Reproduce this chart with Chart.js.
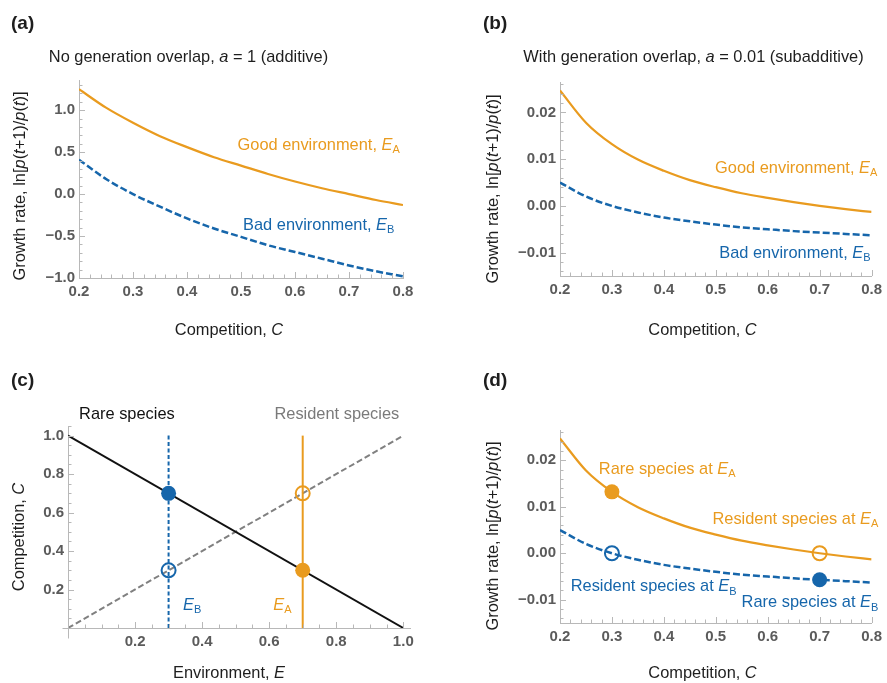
<!DOCTYPE html>
<html>
<head>
<meta charset="utf-8">
<script src="https://cdn.jsdelivr.net/npm/chart.js@4"></script>
<style>
body { margin: 0; background: #fff; }
#wrap { position: relative; width: 887px; height: 683px; }
canvas { position: absolute; }
</style>
</head>
<body>
<div id="wrap">
<canvas id="pa" width="443" height="341" style="left:0;top:0"></canvas>
<canvas id="pb" width="444" height="341" style="left:443px;top:0"></canvas>
<canvas id="pc" width="443" height="342" style="left:0;top:341px"></canvas>
<canvas id="pd" width="444" height="342" style="left:443px;top:341px"></canvas>
</div>
<script>
const compC = [0.2, 0.25, 0.3, 0.35, 0.4, 0.45, 0.5, 0.55, 0.6, 0.65, 0.7, 0.75, 0.8];

// (a) no generation overlap, a = 1
const goodA = [1.25, 1.03, 0.85, 0.69, 0.56, 0.44, 0.34, 0.24, 0.15, 0.07, 0.0, -0.07, -0.13];
const badA  = [0.41, 0.18, 0.0, -0.15, -0.29, -0.41, -0.51, -0.61, -0.69, -0.77, -0.85, -0.92, -0.98];

// (b) and (d) with generation overlap, a = 0.01
const goodB = [0.0247, 0.0178, 0.0132, 0.0099, 0.0075, 0.0055, 0.0040, 0.0027, 0.0017, 0.0008, 0.0, -0.0007, -0.0013];
const badB  = [0.0050, 0.0020, 0.0, -0.0014, -0.0025, -0.0033, -0.0040, -0.0046, -0.0050, -0.0054, -0.0057, -0.0060, -0.0063];

// (c) environment vs competition
const envEnds      = [0, 1];
const rareComp     = [1, 0];   // rare species line
const residentComp = [0, 1];   // resident species line
const envB = 0.3, envA = 0.7;
const compSpan = [0, 1];
const rareAtB = 0.7, residentAtB = 0.3, rareAtA = 0.3, residentAtA = 0.7;

// (d) points on the curves: [competition, growth]
const dRareA = [0.3, 0.0132];
const dResA  = [0.7, 0.0];
const dResB  = [0.3, 0.0];
const dRareB = [0.7, -0.0057];

// tick labels
const ticksCompX = [0.2, 0.3, 0.4, 0.5, 0.6, 0.7, 0.8];
const ticksAy    = [-1.0, -0.5, 0.0, 0.5, 1.0];
const ticksBy    = [-0.01, 0.0, 0.01, 0.02];
const ticksCx    = [0.2, 0.4, 0.6, 0.8, 1.0];
const ticksCy    = [0.2, 0.4, 0.6, 0.8, 1.0];

const ORANGE = '#E99B1F';
const BLUE = '#1666AB';
const GRAY = '#808080';
const AXIS = '#b8b8b8';
const FAM = '"Liberation Sans", Arial, Helvetica, sans-serif';
Chart.defaults.font.family = FAM;

function steps(a, b, st) {
  const out = [];
  for (let v = a; v <= b + 1e-9; v += st) out.push(Math.round(v / st) * st);
  return out;
}
function isMajor(v, majors) { return majors.some(m => Math.abs(m - v) < 1e-9); }
function fmtNum(v, dec) { const s = Math.abs(v).toFixed(dec); return v < -1e-12 ? '\u2212' + s : s; }

function axis(min, max, majors, minorStep, dec, fit, isX) {
  const all = steps(Math.ceil(min / minorStep - 1e-9) * minorStep, max, minorStep);
  return {
    type: 'linear', min: min, max: max,
    border: { display: true, color: AXIS, width: 1 },
    grid: { display: false, drawTicks: false },
    ticks: {
      padding: isX ? 5 : 4, color: '#5b5b5b', autoSkip: false, maxRotation: 0,
      font: { size: 15, weight: 'bold' },
      callback: v => isMajor(v, majors) ? fmtNum(v, dec) : ''
    },
    afterBuildTicks: s => { s.ticks = all.map(v => ({ value: v })); },
    afterFit: s => { if (isX) s.height = fit; else s.width = fit; }
  };
}

// axes of panel (c) run a little past the origin
const OVERHANG = { pc: true };

// inward tick marks like the original frame
const tickMarks = {
  id: 'tickMarks',
  afterDraw(chart) {
    const ctx = chart.ctx;
    ctx.save();
    ctx.strokeStyle = AXIS;
    ctx.lineWidth = 1;
    [chart.scales.x, chart.scales.y].forEach(s => {
      s.ticks.forEach(t => {
        const len = t.label ? 6 : 3.5;
        const p = Math.round(s.getPixelForValue(t.value)) + 0.5;
        ctx.beginPath();
        if (s.isHorizontal()) { ctx.moveTo(p, s.top); ctx.lineTo(p, s.top - len); }
        else { ctx.moveTo(s.right, p); ctx.lineTo(s.right + len, p); }
        ctx.stroke();
      });
    });
    if (OVERHANG[chart.canvas.id]) {
      const a = chart.chartArea;
      const l = Math.round(a.left) + 0.5, b = Math.round(a.bottom) + 0.5;
      ctx.beginPath();
      ctx.moveTo(l - 6, b); ctx.lineTo(l, b);
      ctx.moveTo(l, b); ctx.lineTo(l, b + 10);
      ctx.stroke();
    }
    ctx.restore();
  }
};

function fontFor(st, size) {
  if (st === 'i') return 'italic ' + size + 'px ' + FAM;
  if (st === 's') return Math.round(size * 0.7) + 'px ' + FAM;
  if (st === 'b') return 'bold ' + size + 'px ' + FAM;
  return size + 'px ' + FAM;
}
function rich(ctx, parts, x, y, size, color, align, rotate) {
  let w = 0;
  parts.forEach(p => { ctx.font = fontFor(p[1], size); w += ctx.measureText(p[0]).width; });
  ctx.save();
  ctx.translate(x, y);
  if (rotate) ctx.rotate(-Math.PI / 2);
  let cx = align === 'right' ? -w : (align === 'center' ? -w / 2 : 0);
  ctx.fillStyle = color;
  ctx.textBaseline = 'middle';
  ctx.textAlign = 'left';
  parts.forEach(p => {
    ctx.font = fontFor(p[1], size);
    ctx.fillText(p[0], cx, p[1] === 's' ? size * 0.3 : 0);
    cx += ctx.measureText(p[0]).width;
  });
  ctx.restore();
}

const growthTitle = [['Growth rate, ln[', 'n'], ['p', 'i'], ['(', 'n'], ['t', 'i'], ['+1)/', 'n'], ['p', 'i'], ['(', 'n'], ['t', 'i'], [')]', 'n']];
const compTitle = [['Competition, ', 'n'], ['C', 'i']];
const TXT = '#1e1e1e';

const TEXTS = {
  pa: [
    { px: [11, 24], parts: [['(a)', 'b']], size: 19, align: 'left' },
    { px: [188.5, 57], parts: [['No generation overlap, ', 'n'], ['a', 'i'], [' = 1 (additive)', 'n']], align: 'center' },
    { px: [229, 330], parts: compTitle, align: 'center' },
    { px: [20, 186], parts: growthTitle, align: 'center', rotate: true },
    { at: [0.794, 0.583], parts: [['Good environment, ', 'n'], ['E', 'i'], ['A', 's']], color: ORANGE, align: 'right' },
    { at: [0.784, -0.369], parts: [['Bad environment, ', 'n'], ['E', 'i'], ['B', 's']], color: BLUE, align: 'right' }
  ],
  pb: [
    { px: [40, 24], parts: [['(b)', 'b']], size: 19, align: 'left' },
    { px: [250.5, 57], parts: [['With generation overlap, ', 'n'], ['a', 'i'], [' = 0.01 (subadditive)', 'n']], align: 'center' },
    { px: [259.5, 330], parts: compTitle, align: 'center' },
    { px: [50, 189], parts: growthTitle, align: 'center', rotate: true },
    { at: [0.811, 0.0081], parts: [['Good environment, ', 'n'], ['E', 'i'], ['A', 's']], color: ORANGE, align: 'right' },
    { at: [0.798, -0.0101], parts: [['Bad environment, ', 'n'], ['E', 'i'], ['B', 's']], color: BLUE, align: 'right' }
  ],
  pc: [
    { px: [11, 40], parts: [['(c)', 'b']], size: 19, align: 'left' },
    { px: [229, 332], parts: [['Environment, ', 'n'], ['E', 'i']], align: 'center' },
    { px: [19, 196], parts: compTitle, align: 'center', rotate: true },
    { at: [0.033, 1.11], parts: [['Rare species', 'n']], color: '#111', align: 'left' },
    { at: [0.988, 1.11], parts: [['Resident species', 'n']], color: '#7a7a7a', align: 'right' },
    { at: [0.343, 0.118], parts: [['E', 'i'], ['B', 's']], color: BLUE, align: 'left' },
    { at: [0.612, 0.118], parts: [['E', 'i'], ['A', 's']], color: ORANGE, align: 'left' }
  ],
  pd: [
    { px: [40, 40], parts: [['(d)', 'b']], size: 19, align: 'left' },
    { px: [259.5, 332], parts: compTitle, align: 'center' },
    { px: [50, 195], parts: growthTitle, align: 'center', rotate: true },
    { at: [0.538, 0.0181], parts: [['Rare species at ', 'n'], ['E', 'i'], ['A', 's']], color: ORANGE, align: 'right' },
    { at: [0.813, 0.00735], parts: [['Resident species at ', 'n'], ['E', 'i'], ['A', 's']], color: ORANGE, align: 'right' },
    { at: [0.540, -0.0072], parts: [['Resident species at ', 'n'], ['E', 'i'], ['B', 's']], color: BLUE, align: 'right' },
    { at: [0.813, -0.01065], parts: [['Rare species at ', 'n'], ['E', 'i'], ['B', 's']], color: BLUE, align: 'right' }
  ]
};

const textPlugin = {
  id: 'texts',
  afterDraw(chart) {
    const ctx = chart.ctx;
    (TEXTS[chart.canvas.id] || []).forEach(t => {
      let x, y;
      if (t.at) { x = chart.scales.x.getPixelForValue(t.at[0]); y = chart.scales.y.getPixelForValue(t.at[1]); }
      else { x = t.px[0]; y = t.px[1]; }
      rich(ctx, t.parts, x, y, t.size || 16.4, t.color || TXT, t.align, t.rotate);
    });
  }
};

function pts(xs, ys) { return xs.map((x, i) => ({ x: x, y: ys[i] })); }
function curve(xs, ys, color, dash, width) {
  return { data: pts(xs, ys), borderColor: color, borderWidth: width || 2, borderDash: dash || [],
           pointRadius: 0, cubicInterpolationMode: 'monotone', order: 1 };
}
function dot(p, color, filled) {
  return { data: [{ x: p[0], y: p[1] }], showLine: false, order: 0,
           pointRadius: filled ? 7.5 : 7, pointBorderWidth: filled ? 0 : 2,
           pointBackgroundColor: filled ? color : 'rgba(0,0,0,0)', pointBorderColor: color };
}

function make(id, datasets, xAxis, yAxis, pad) {
  new Chart(document.getElementById(id), {
    type: 'line',
    data: { datasets: datasets },
    options: {
      responsive: false, animation: false, devicePixelRatio: 1,
      layout: { padding: pad },
      plugins: { legend: { display: false }, tooltip: { enabled: false } },
      scales: { x: xAxis, y: yAxis }
    },
    plugins: [tickMarks, textPlugin]
  });
}

// (a)
make('pa',
  [curve(compC, goodA, ORANGE, [], 2.2), curve(compC, badA, BLUE, [7, 3], 2.5)],
  axis(0.2, 0.8, ticksCompX, 0.02, 1, 63, true),
  axis(-1.0, 1.36, ticksAy, 0.1, 1, 79, false),
  { left: 0, top: 80, right: 40, bottom: 0 });

// (b)
make('pb',
  [curve(compC, goodB, ORANGE, [], 2.2), curve(compC, badB, BLUE, [7, 3], 2.5)],
  axis(0.2, 0.8, ticksCompX, 0.02, 1, 65, true),
  axis(-0.015, 0.0265, ticksBy, 0.002, 2, 117, false),
  { left: 0, top: 82, right: 11, bottom: 0 });

// (c)
make('pc',
  [
    dot([envB, rareAtB], BLUE, true), dot([envB, residentAtB], BLUE, false),
    dot([envA, residentAtA], ORANGE, false), dot([envA, rareAtA], ORANGE, true),
    { data: pts([envB, envB], compSpan), borderColor: BLUE, borderWidth: 2, borderDash: [4, 2.5], pointRadius: 0, order: 1 },
    { data: pts([envA, envA], compSpan), borderColor: ORANGE, borderWidth: 2, pointRadius: 0, order: 1 },
    { data: pts(envEnds, rareComp), borderColor: '#111', borderWidth: 2, pointRadius: 0, order: 1 },
    { data: pts(envEnds, residentComp), borderColor: GRAY, borderWidth: 2, borderDash: [6, 3], pointRadius: 0, order: 1 }
  ],
  axis(0, 1.02, ticksCx, 0.05, 1, 55, true),
  axis(0, 1.05, ticksCy, 0.05, 1, 68, false),
  { left: 0, top: 85, right: 33, bottom: 0 });

// (d)
make('pd',
  [
    dot(dRareA, ORANGE, true), dot(dResA, ORANGE, false),
    dot(dResB, BLUE, false), dot(dRareB, BLUE, true),
    curve(compC, goodB, ORANGE, [], 2.2), curve(compC, badB, BLUE, [7, 3], 2.5)
  ],
  axis(0.2, 0.8, ticksCompX, 0.02, 1, 60, true),
  axis(-0.015, 0.0265, ticksBy, 0.002, 2, 117, false),
  { left: 0, top: 89, right: 11, bottom: 0 });
</script>
</body>
</html>
